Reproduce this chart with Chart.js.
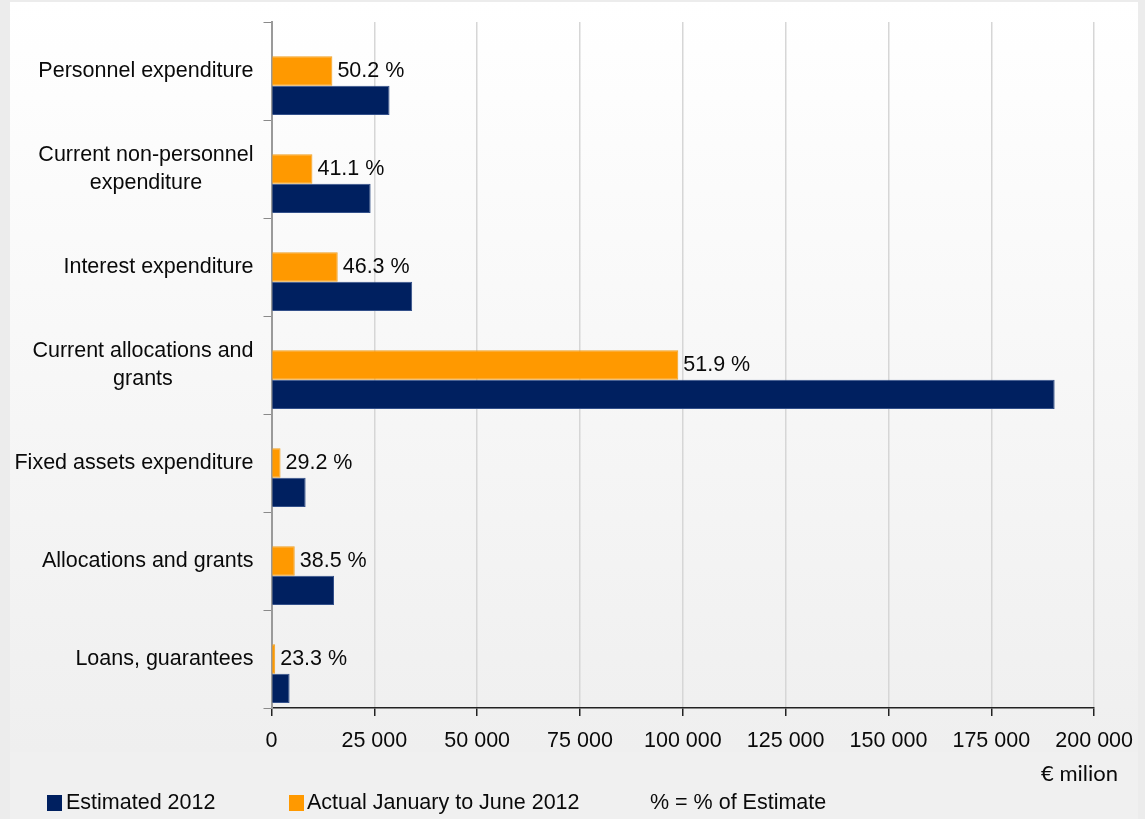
<!DOCTYPE html>
<html>
<head>
<meta charset="utf-8">
<script src="https://cdn.jsdelivr.net/npm/chart.js@4"></script>
<style>
  html, body { margin: 0; padding: 0; background: #ececec; }
  canvas { display: block; }
</style>
</head>
<body>
<canvas id="chart" width="1145" height="819"></canvas>
<script>
const categories = [
    ['Personnel expenditure'],
    ['Current non-personnel', 'expenditure'],
    ['Interest expenditure'],
    ['Current allocations and', 'grants'],
    ['Fixed assets expenditure'],
    ['Allocations and grants'],
    ['Loans, guarantees']
];
const estimated = [28700, 24100, 34200, 190400, 8300, 15200, 4400]; // € milion
const actual = [14800, 9950, 16100, 98900, 2200, 5650, 900];
const percentLabels = ['50.2 %', '41.1 %', '46.3 %', '51.9 %', '29.2 %', '38.5 %', '23.3 %'];
const xTicks = [0, 25000, 50000, 75000, 100000, 125000, 150000, 175000, 200000];
const seriesNames = ['Estimated 2012', 'Actual January to June 2012'];
const noteText = '% = % of Estimate';
const unitText = '€ milion';

const NAVY = '#002060';
const ORANGE = '#ff9900';
const FONT = 'Liberation Sans, Arial, sans-serif';
const FSIZE = 21.5;

// panel background with soft vertical gradient
const backgroundPlugin = {
    id: 'panelBg',
    beforeDraw(chart) {
        const ctx = chart.ctx;
        ctx.save();
        ctx.fillStyle = '#ececec';
        ctx.fillRect(0, 0, chart.width, chart.height);
        ctx.fillStyle = '#f0f0f0';
        ctx.fillRect(10, 752, 1128, chart.height - 752);
        const g = ctx.createLinearGradient(0, 2, 0, 752);
        g.addColorStop(0, '#ffffff');
        g.addColorStop(1, '#efefef');
        ctx.fillStyle = g;
        ctx.fillRect(10, 2, 1128, 750);
        ctx.restore();
    }
};

// category labels, percentage labels, unit and legend
const textPlugin = {
    id: 'texts',
    afterDraw(chart) {
        const ctx = chart.ctx;
        const y = chart.scales.y;
        const xs = chart.scales.x;
        ctx.save();
        ctx.fillStyle = '#0a0a0a';
        ctx.textBaseline = 'middle';
        ctx.font = FSIZE + 'px ' + FONT;

        // y labels: right edge left of the axis, multi-line centered on widest line
        const right = xs.left - 18;
        categories.forEach((lines, i) => {
            const cy = y.getPixelForValue(i);
            const lh = 28;
            const top = cy - (lines.length - 1) * lh / 2;
            if (lines.length === 1) {
                ctx.textAlign = 'right';
                ctx.fillText(lines[0], right, cy);
            } else {
                const w = Math.max(...lines.map(l => ctx.measureText(l).width));
                ctx.textAlign = 'center';
                lines.forEach((l, k) => ctx.fillText(l, right - w / 2, top + k * lh));
            }
        });

        // percentage labels next to the orange bars
        const meta = chart.getDatasetMeta(1);
        ctx.textAlign = 'left';
        meta.data.forEach((bar, i) => {
            ctx.fillText(percentLabels[i], bar.x + 5, bar.y);
        });

        // unit
        ctx.font = '22px Lato, sans-serif';
        ctx.textAlign = 'right';
        ctx.fillText(unitText, 1118, 774);

        // legend
        ctx.font = FSIZE + 'px ' + FONT;
        ctx.textAlign = 'left';
        const ly = 803;
        ctx.fillStyle = NAVY;
        ctx.fillRect(47, ly - 8, 15, 16);
        ctx.fillStyle = '#0a0a0a';
        ctx.fillText(seriesNames[0], 66, ly);
        ctx.fillStyle = ORANGE;
        ctx.fillRect(289, ly - 8, 15, 16);
        ctx.fillStyle = '#0a0a0a';
        ctx.fillText(seriesNames[1], 307, ly);
        ctx.fillText(noteText, 650, ly);
        ctx.restore();
    }
};

const ctx = document.getElementById('chart').getContext('2d');
new Chart(ctx, {
    type: 'bar',
    data: {
        labels: categories.map(c => c.join(' ')),
        datasets: [
            { label: 'gap', data: categories.map(() => null) }, // empty slot above the pair
            { label: seriesNames[1], data: actual, backgroundColor: ORANGE, borderColor: '#f0a020', borderWidth: 1 },
            { label: seriesNames[0], data: estimated, backgroundColor: NAVY, borderColor: '#33508a', borderWidth: 1 }
        ]
    },
    options: {
        indexAxis: 'y',
        responsive: false,
        animation: false,
        categoryPercentage: 0.9,
        barPercentage: 1.0,
        layout: { padding: { top: 22, right: 49, left: 0, bottom: 0 } },
        plugins: {
            legend: { display: false },
            tooltip: { enabled: false }
        },
        scales: {
            x: {
                min: 0,
                max: 200000,
                afterBuildTicks(scale) {
                    scale.ticks = xTicks.map(v => ({ value: v }));
                },
                afterFit(scale) { scale.height = 111; },
                grid: {
                    color: '#d6d6d6',
                    lineWidth: 1.5,
                    tickColor: '#222',
                    tickLength: 8
                },
                border: { color: '#222', width: 1.5 },
                ticks: {
                    color: '#0a0a0a',
                    padding: 12,
                    font: { size: FSIZE, family: FONT },
                    maxRotation: 0,
                    callback: v => String(v).replace(/\B(?=(\d{3})+(?!\d))/g, ' ')
                }
            },
            y: {
                afterFit(scale) { scale.width = 271.5; },
                grid: {
                    drawOnChartArea: false,
                    offset: true,
                    color: '#8a8a8a',
                    tickLength: 8
                },
                border: { color: '#9a9a9a', width: 2 },
                ticks: { display: false }
            }
        }
    },
    plugins: [backgroundPlugin, textPlugin]
});
</script>
</body>
</html>
